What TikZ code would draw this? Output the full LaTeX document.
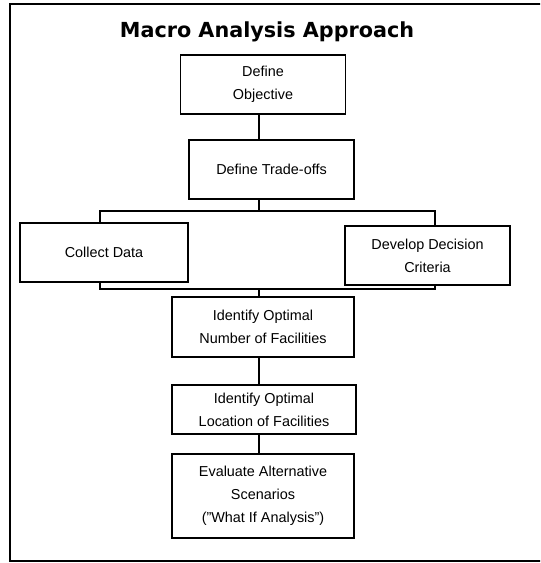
\documentclass[tikz,border=0pt]{standalone}
\usepackage{fontspec}
\setmainfont{Liberation Sans}
\newfontfamily\titlefont{DejaVu Sans}
\usepackage{tikz}
\usetikzlibrary{positioning,calc}

\begin{document}
\begin{tikzpicture}[x=0.02cm, y=-0.02cm, line width=1.1pt,
    stepbox/.style={draw, align=center, inner sep=2pt, font={\fontsize{8.2}{13}\selectfont}},
    every node/.style={font=\small}]
  \useasboundingbox (0,0) rectangle (540,563);
  \clip (0,0) rectangle (540,563);
  % frame
  \draw[line width=1.3pt] (10,4) rectangle (560,561);
  \node[font={\titlefont\bfseries\fontsize{11.8}{14}\selectfont}, anchor=base] (title) at (267,38) {Macro Analysis Approach};
  % boxes
  \node[stepbox, minimum width=3.3cm, minimum height=1.18cm] (obj) at (263,84.5) {Define\\Objective};
  \node[stepbox, minimum width=3.3cm, minimum height=1.18cm] (trade) at (271.5,169.5) {Define Trade-offs};
  \node[stepbox, minimum width=3.36cm, minimum height=1.18cm] (collect) at (104,252.5) {Collect Data};
  \node[stepbox, minimum width=3.3cm, minimum height=1.18cm] (crit) at (427.5,255.5) {Develop Decision\\Criteria};
  \node[stepbox, minimum width=3.64cm, minimum height=1.2cm] (number) at (263,327) {Identify Optimal\\Number of Facilities};
  \node[stepbox, minimum width=3.68cm, minimum height=0.98cm] (location) at (264,409.5) {Identify Optimal\\Location of Facilities};
  \node[stepbox, minimum width=3.64cm, minimum height=1.68cm] (evaluate) at (263,496) {Evaluate Alternative\\Scenarios\\(\symbol{34}What If Analysis\symbol{34})};
  % connectors
  \coordinate (spine) at (259,0);
  \coordinate (cl) at (100,0);
  \coordinate (cr) at (435,0);
  \coordinate (busA) at (259,211);
  \coordinate (busB) at (259,289);
  \draw (obj.south -| spine) -- (trade.north -| spine);
  \draw (trade.south -| spine) -- (busA);
  \draw (collect.north -| cl) |- (busA) -| (crit.north -| cr);
  \draw (collect.south -| cl) |- (busB) -| (crit.south -| cr);
  \draw (busB) -- (number.north -| spine);
  \draw (number.south -| spine) -- (location.north -| spine);
  \draw (location.south -| spine) -- (evaluate.north -| spine);
\end{tikzpicture}
\end{document}
